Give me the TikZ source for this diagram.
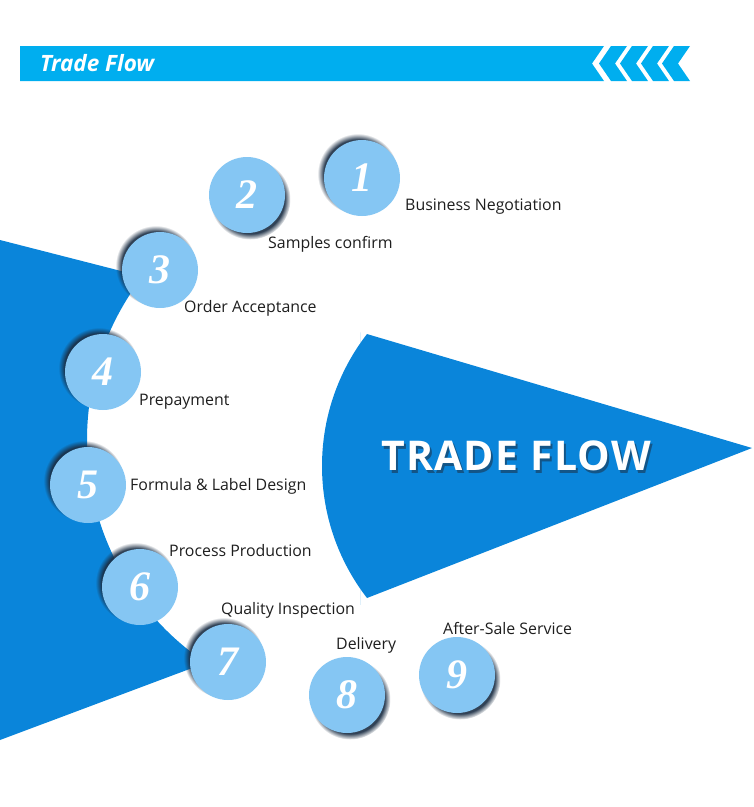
\documentclass[tikz,border=0pt]{standalone}
\usepackage{fontspec}
\setmainfont{Open Sans}
\newfontfamily\numfont{Liberation Serif}
\newfontfamily\titlefont[LetterSpace=3]{Open Sans}
\usetikzlibrary{positioning, shadows, calc}

\definecolor{headcyan}{HTML}{00AEEF}
\definecolor{flowblue}{HTML}{0A85DA}
\definecolor{steplight}{HTML}{85C6F3}
\definecolor{shadenavy}{HTML}{1B2E44}
\definecolor{labelgray}{HTML}{1E1E1E}

\begin{document}
\begin{tikzpicture}[x=1pt, y=-1pt,
            stepcircle/.style={circle, fill=steplight, minimum size=76pt, inner sep=0pt, text=white, font=\numfont\bfseries\itshape\fontsize{42}{42}\selectfont},
            shadowul/.style={circular drop shadow={shadow xshift=-4pt, shadow yshift=4pt, shadow scale=1.06, fill=shadenavy, opacity=0.9}},
            shadowdr/.style={circular drop shadow={shadow xshift=3pt, shadow yshift=-4pt, shadow scale=1.06, fill=shadenavy, opacity=0.9}},
            steplabel/.style={anchor=west, inner sep=0pt, text=labelgray, font=\fontsize{15.9}{18}\selectfont}
        ]
            \useasboundingbox (0,0) rectangle (754,807);

% Header bar
            \fill[headcyan] (20,46) -- (604,46) -- (592,63.5) -- (604,81) -- (20,81) -- cycle;
            \foreach \k in {0,...,3}
                \fill[headcyan] ({611+21*\k},46) -- ({627+21*\k},46) -- ({615+21*\k},63.5) -- ({627+21*\k},81) -- ({611+21*\k},81) -- ({599+21*\k},63.5) -- cycle;
            \node[anchor=west, inner sep=0pt, text=white, font=\bfseries\itshape\fontsize{22.5}{22.5}\selectfont] (headtitle) at (40,63.5) {Trade Flow};

% Left blue sector with the white cut
            \begin{scope}
                \clip (0,240) -- (793,443) -- (0,740) -- cycle;
                \clip (0,150) rectangle (360,760);
                \fill[flowblue, even odd rule] (0,150) rectangle (360,760) (355,440) circle (268pt);
            \end{scope}

% Right blue sector
            \begin{scope}
                \clip (538,466) circle (216pt);
                \fill[flowblue] (300,314.2) -- (752,448) -- (300,624.1) -- cycle;
            \end{scope}
            \node[text=shadenavy, opacity=0.55, font=\titlefont\bfseries\fontsize{41}{41}\selectfont] (titleshadow) at (518,458.5) {TRADE FLOW};
            \node[text=white, font=\titlefont\bfseries\fontsize{41}{41}\selectfont] (title) at (516,455.5) {TRADE FLOW};

% Steps
            \node[stepcircle, shadowul] (s1) at (362,178) {1};
            \node[stepcircle, shadowdr] (s2) at (247,195) {2};
            \node[stepcircle, shadowul] (s3) at (160,270) {3};
            \node[stepcircle, shadowul] (s4) at (103,372) {4};
            \node[stepcircle, shadowul] (s5) at (88,485) {5};
            \node[stepcircle, shadowul] (s6) at (140,587) {6};
            \node[stepcircle, shadowul] (s7) at (228,662) {7};
            \node[stepcircle, shadowdr] (s8) at (347,695) {8};
            \node[stepcircle, shadowdr] (s9) at (457,675) {9};

% Labels
            \node[steplabel] (l1) at (405,207) {Business Negotiation};
            \node[steplabel] (l2) at (268,244) {Samples confirm};
            \node[steplabel] (l3) at (184,308) {Order Acceptance};
            \node[steplabel] (l4) at (139,402) {Prepayment};
            \node[steplabel] (l5) at (130,486) {Formula \& Label Design};
            \node[steplabel] (l6) at (169,551) {Process Production};
            \node[steplabel] (l7) at (221,610) {Quality Inspection};
            \node[steplabel] (l8) at (336,645) {Delivery};
            \node[steplabel] (l9) at (443,628) {After-Sale Service};

        \end{tikzpicture}
\end{document}
